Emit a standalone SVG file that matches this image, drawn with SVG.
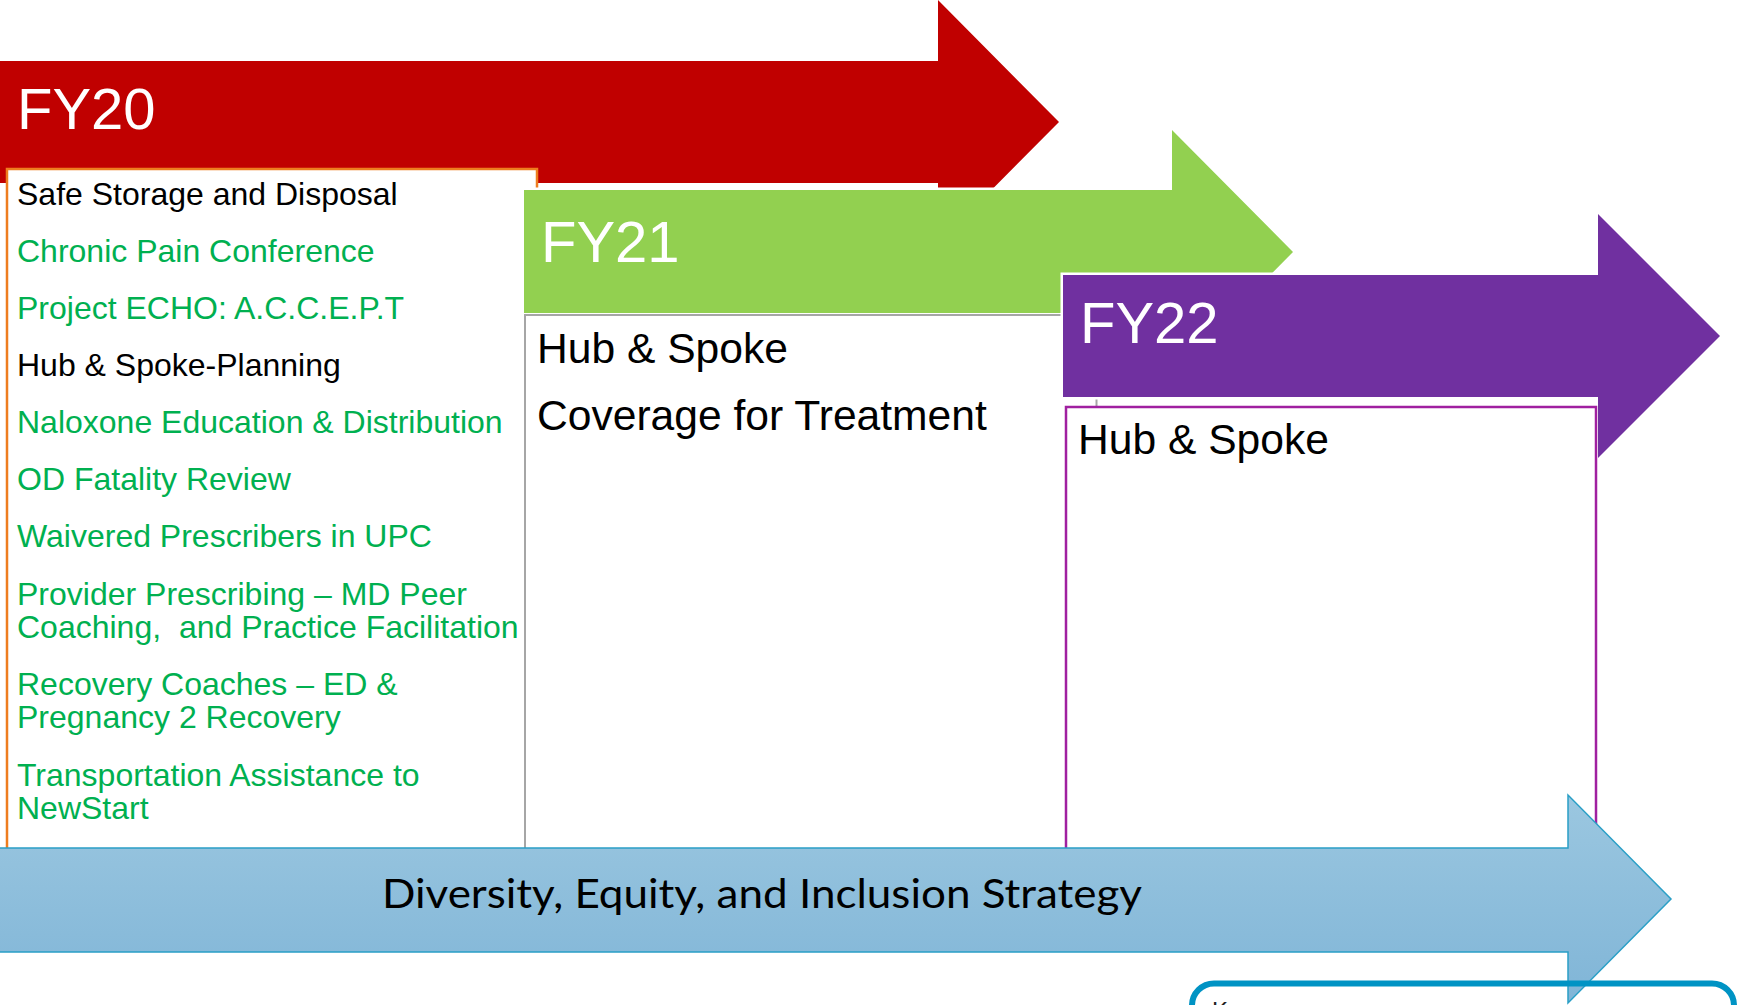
<svg xmlns="http://www.w3.org/2000/svg" width="1738" height="1005" viewBox="0 0 1738 1005">
<defs>
<linearGradient id="dei" x1="0" y1="0" x2="0" y2="1">
<stop offset="0" stop-color="#9BC7E0"/>
<stop offset="1" stop-color="#80B5D7"/>
</linearGradient>
</defs>
<style>
.yr{stroke:#fff;stroke-width:5;stroke-linejoin:miter;paint-order:stroke}
.yl{font-family:"Liberation Sans",Arial,sans-serif;font-size:58px;fill:#fff}
.it{font-family:"Liberation Sans",Arial,sans-serif;font-size:32px}
.g{fill:#00B050}
.k{fill:#000}
.big{font-family:"Liberation Sans",Arial,sans-serif;font-size:42.6px;fill:#000}
</style>
<rect width="1738" height="1005" fill="#fff"/>

<g id="fy20">
<polygon fill="#C00000" points="-5,61 938,61 938,0 1059,122 938,244 938,183 -5,183"/>
<text class="yl" x="17" y="129">FY20</text>
</g>
<g id="fy20-box">
<rect x="7" y="169" width="530" height="690" fill="#fff" stroke="#EE7D1F" stroke-width="2.5"/>
<text class="it k" x="17" y="205">Safe Storage and Disposal</text>
<text class="it g" x="17" y="262">Chronic Pain Conference</text>
<text class="it g" x="17" y="319">Project ECHO: A.C.C.E.P.T</text>
<text class="it k" x="17" y="376">Hub &amp; Spoke-Planning</text>
<text class="it g" x="17" y="433">Naloxone Education &amp; Distribution</text>
<text class="it g" x="17" y="490">OD Fatality Review</text>
<text class="it g" x="17" y="547">Waivered Prescribers in UPC</text>
<text class="it g" x="17" y="605">Provider Prescribing – MD Peer</text>
<text class="it g" x="17" y="638">Coaching,&#160; and Practice Facilitation</text>
<text class="it g" x="17" y="695">Recovery Coaches – ED &amp;</text>
<text class="it g" x="17" y="728">Pregnancy 2 Recovery</text>
<text class="it g" x="17" y="786">Transportation Assistance to</text>
<text class="it g" x="17" y="819">NewStart</text>
</g>

<g id="fy21">
<polygon class="yr" fill="#92D050" points="524,190 1172,190 1172,130 1293,252 1172,374 1172,313 524,313"/>
<text class="yl" x="541" y="262">FY21</text>
</g>
<g id="fy21-box">
<rect x="525" y="315" width="571.5" height="544" fill="#fff" stroke="#A6A6A6" stroke-width="2"/>
<text class="big" x="537" y="363">Hub &amp; Spoke</text>
<text class="big" x="537" y="430">Coverage for Treatment</text>
</g>

<g id="fy22">
<polygon class="yr" fill="#7030A0" points="1063,275 1598,275 1598,214 1720,336 1598,458 1598,397 1063,397"/>
<text class="yl" x="1080" y="343">FY22</text>
</g>
<g id="fy22-box">
<rect x="1066" y="407" width="530" height="452" fill="#fff" stroke="#A020A0" stroke-width="2.5"/>
<text class="big" x="1078" y="454">Hub &amp; Spoke</text>
</g>

<g id="dei">
<polygon fill="url(#dei)" stroke="#2A9FC6" stroke-width="1.5" points="-5,848 1568,848 1568,795 1671,899 1568,1003 1568,952 -5,952"/>
<text x="762" y="908" text-anchor="middle" textLength="760" lengthAdjust="spacingAndGlyphs" font-family="Lato, 'Open Sans', sans-serif" font-size="41" fill="#000">Diversity, Equity, and Inclusion Strategy</text>
</g>

<g id="key-box">
<rect x="1192" y="983.5" width="542" height="70" rx="22" fill="none" stroke="#0093C4" stroke-width="6"/>
<text x="1212" y="1019" font-family="'Liberation Sans', Arial, sans-serif" font-size="24" fill="#222">K</text>
</g>

<g id="connectors"></g>
</svg>
